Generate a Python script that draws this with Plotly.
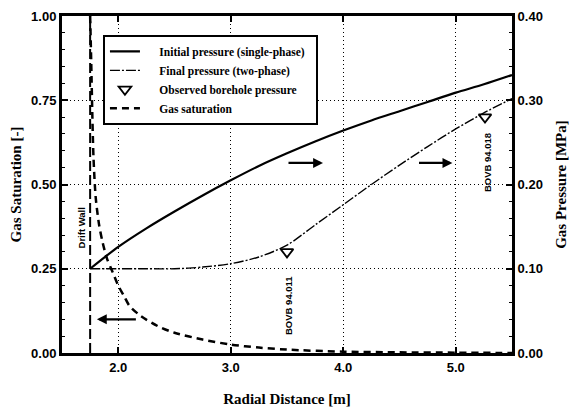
import plotly.graph_objects as go

# ---- data ----
drift_wall_x = 1.75

init_x = [1.75, 2.0, 2.25, 2.5, 2.75, 3.0, 3.25, 3.5, 3.75, 4.0, 4.25, 4.5, 4.75, 5.0, 5.25, 5.5]
init_p = [0.100, 0.126, 0.148, 0.168, 0.187, 0.205, 0.222, 0.237, 0.251, 0.264, 0.276, 0.287,
          0.298, 0.309, 0.319, 0.330]

final_x = [1.75, 2.0, 2.25, 2.5, 2.75, 3.0, 3.25, 3.5, 3.75, 4.0, 4.25, 4.5, 4.75, 5.0, 5.25, 5.5]
final_p = [0.100, 0.100, 0.100, 0.100, 0.102, 0.106, 0.114, 0.128, 0.152, 0.176, 0.200, 0.223, 0.245, 0.266, 0.285, 0.302]

obs_x = [3.5, 5.26]
obs_p = [0.120, 0.280]
obs_names = ["BOVB 94.011", "BOVB 94.018"]

sat_x = [1.75, 1.76, 1.77, 1.78, 1.80, 1.83, 1.86, 1.90, 1.95, 2.00, 2.05, 2.10, 2.20, 2.35, 2.50,
         2.75, 3.00, 3.25, 3.50, 4.00, 4.50, 5.00, 5.50]
sat_s = [1.00, 0.86, 0.70, 0.58, 0.46, 0.38, 0.33, 0.28, 0.24, 0.20, 0.17, 0.14, 0.11, 0.08, 0.06,
         0.04, 0.025, 0.016, 0.010, 0.004, 0.002, 0.001, 0.0]

x_ticks = [2.0, 3.0, 4.0, 5.0]
x_tick_text = ["2.0", "3.0", "4.0", "5.0"]
y_ticks = [0.0, 0.25, 0.5, 0.75, 1.0]
y_tick_text = ["0.00", "0.25", "0.50", "0.75", "1.00"]
y2_ticks = [0.0, 0.1, 0.2, 0.3, 0.4]
y2_tick_text = ["0.00", "0.10", "0.20", "0.30", "0.40"]

# ---- figure ----
serif = "Liberation Serif"
sans = "Liberation Sans"
pad = "\u00a0" * 5

fig = go.Figure()

fig.add_trace(go.Scatter(x=init_x, y=init_p, yaxis="y2", mode="lines",
                         name=pad + "Initial pressure (single-phase)" + "\u00a0" * 2,
                         line=dict(color="black", width=2.2, shape="spline", smoothing=0.8)))
fig.add_trace(go.Scatter(x=final_x, y=final_p, yaxis="y2", mode="lines",
                         name=pad + "Final pressure (two-phase)",
                         line=dict(color="black", width=1.4, dash="10px,2px,2px,2px",
                                   shape="spline", smoothing=0.8)))
fig.add_trace(go.Scatter(x=obs_x, y=obs_p, yaxis="y2", mode="markers",
                         name=pad + "Observed borehole pressure",
                         marker=dict(symbol="triangle-down-open", size=11, color="black",
                                     line=dict(width=1.8, color="black"))))
fig.add_trace(go.Scatter(x=sat_x, y=sat_s, yaxis="y", mode="lines",
                         name=pad + "Gas saturation",
                         line=dict(color="black", width=2.5, dash="7px,5px", shape="spline", smoothing=0.8)))
# drift wall
fig.add_trace(go.Scatter(x=[drift_wall_x, drift_wall_x], y=[0, 1], yaxis="y", mode="lines",
                         showlegend=False, hoverinfo="skip",
                         line=dict(color="black", width=2, dash="10px,4px")))

tickfont = dict(family=sans, size=13, color="black", weight="bold")
titlefont = dict(family=serif, size=15, color="black", weight="bold")

fig.update_layout(
    width=570, height=407,
    margin=dict(l=62, r=58, t=16, b=54, autoexpand=False),
    paper_bgcolor="white", plot_bgcolor="white",
    showlegend=True,
    legend=dict(x=0.091, y=0.944, xanchor="left", yanchor="top",
                bordercolor="black", borderwidth=2, bgcolor="white",
                font=dict(family=serif, size=11.5, color="black", weight="bold"),
                tracegroupgap=0),
    xaxis=dict(range=[1.5, 5.5], tickvals=x_ticks, ticktext=x_tick_text, automargin=False,
               showgrid=True, gridcolor="black", griddash="1px,3px", gridwidth=1,
               showline=True, linecolor="black", linewidth=3, mirror="ticks",
               ticks="inside", ticklen=6, tickwidth=2, tickcolor="black",
               tickfont=tickfont, zeroline=False,
               title=dict(text="Radial Distance [m]", font=titlefont, standoff=20)),
    yaxis=dict(range=[0, 1], tickvals=y_ticks, ticktext=y_tick_text, automargin=False,
               showgrid=True, gridcolor="black", griddash="1px,3px", gridwidth=1,
               showline=True, linecolor="black", linewidth=3,
               ticks="inside", ticklen=6, tickwidth=2, tickcolor="black",
               minor=dict(ticks="inside", ticklen=3, tickwidth=1, dtick=0.05, tickcolor="black"),
               tickfont=tickfont, zeroline=False,
               title=dict(text="Gas Saturation [-]", font=titlefont, standoff=6)),
    yaxis2=dict(range=[0, 0.4], tickvals=y2_ticks, ticktext=y2_tick_text, automargin=False,
                overlaying="y", side="right", showgrid=False,
                showline=True, linecolor="black", linewidth=3,
                ticks="inside", ticklen=6, tickwidth=2, tickcolor="black",
                minor=dict(ticks="inside", ticklen=3, tickwidth=1, dtick=0.02, tickcolor="black"),
                tickfont=tickfont, zeroline=False,
                title=dict(text="Gas Pressure [MPa]", font=titlefont, standoff=14)),
)

labfont = dict(family=sans, size=9.5, color="black", weight="bold")
# Drift wall label
fig.add_annotation(x=drift_wall_x, y=0.37, xref="x", yref="y", text="Drift Wall",
                   textangle=-90, showarrow=False, font=labfont, xshift=-9)
# borehole labels
label_y = [0.0558, 0.2255]
for bx, name, ly in zip(obs_x, obs_names, label_y):
    fig.add_annotation(x=bx, y=ly, xref="x", yref="y2", text=name, textangle=-90,
                       showarrow=False, font=labfont, xshift=2)

# direction arrows (tail -> head)
arrows = [((3.5, 0.564), (3.82, 0.564)),
          ((4.66, 0.564), (4.97, 0.564)),
          ((2.17, 0.10), (1.81, 0.10))]
for (tx, ty), (hx, hy) in arrows:
    fig.add_annotation(x=hx, y=hy, ax=tx, ay=ty, xref="x", yref="y", axref="x", ayref="y",
                       text="", showarrow=True, arrowhead=2, arrowsize=0.9, arrowwidth=2.2,
                       arrowcolor="black")

fig.write_html("out.html")
